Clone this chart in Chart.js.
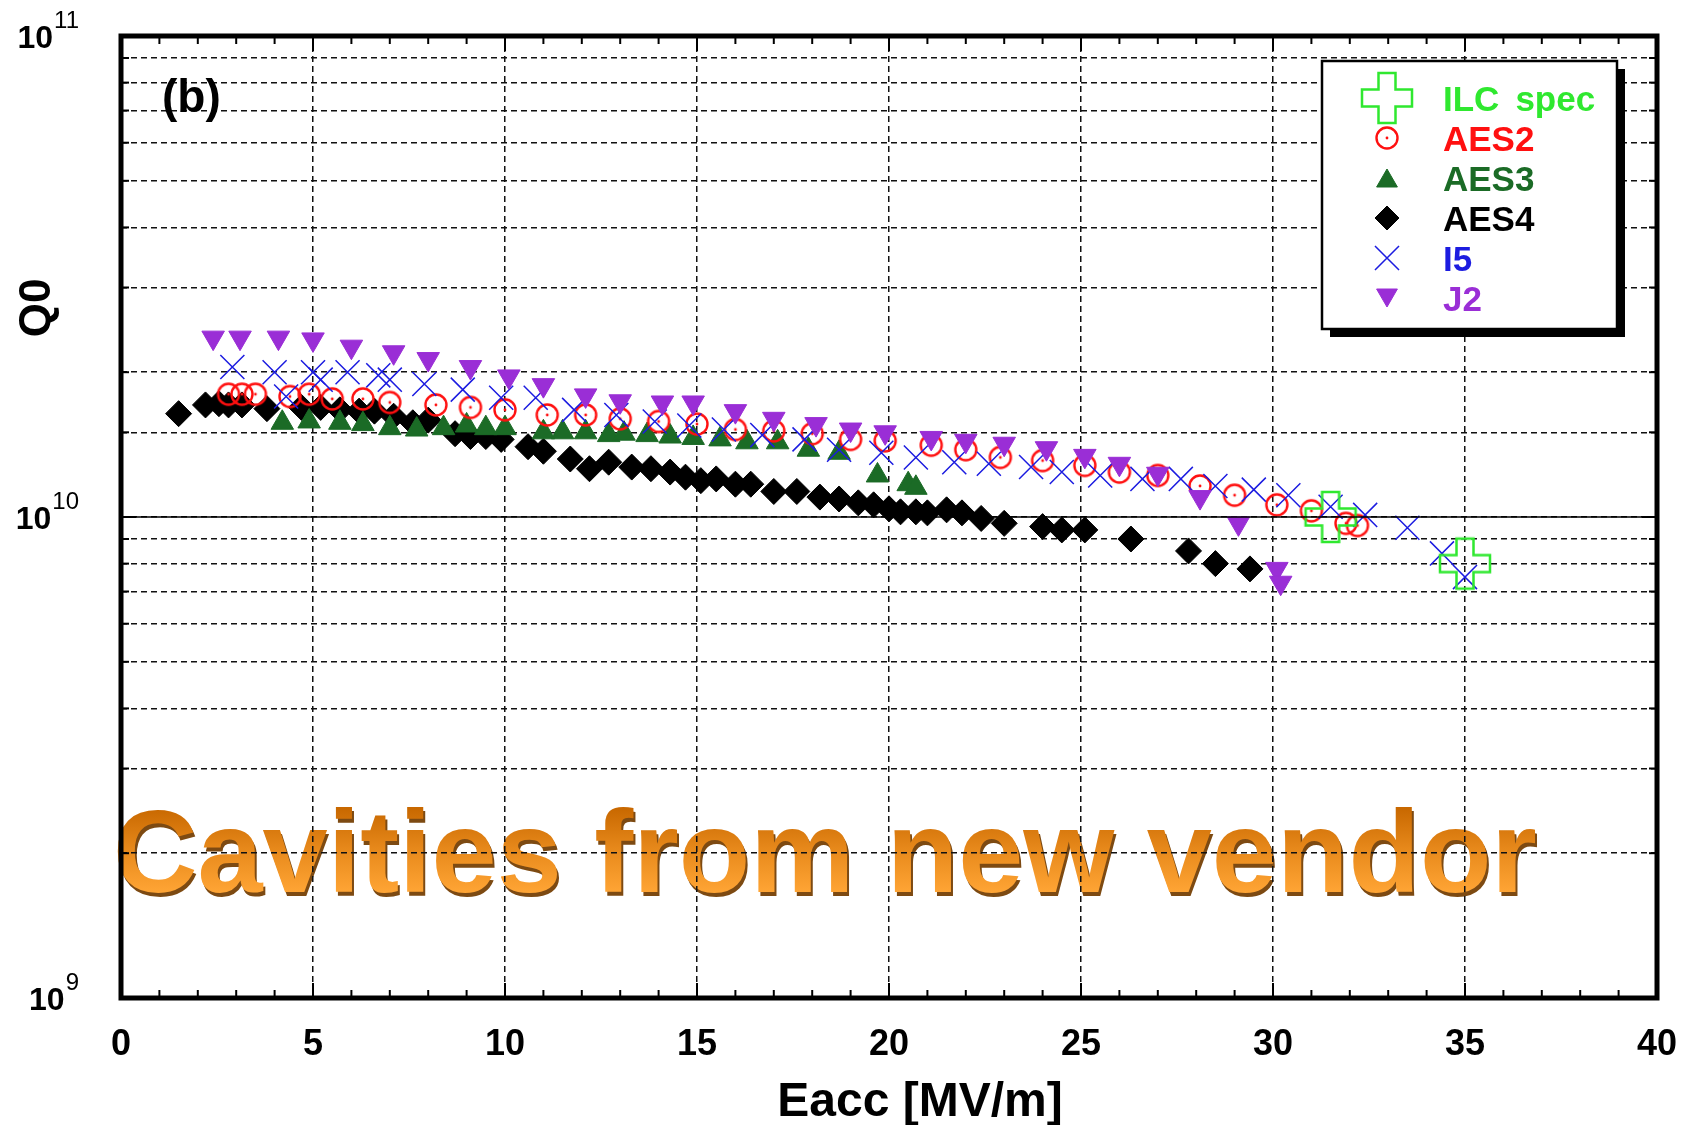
<!DOCTYPE html>
<html>
<head>
<meta charset="utf-8">
<title>Q0 vs Eacc - cavities from new vendor</title>
<script src="https://cdn.jsdelivr.net/npm/chart.js@4.4.1/dist/chart.umd.min.js"></script>
<style>
  html, body { margin: 0; padding: 0; background: #ffffff; }
  canvas { display: block; }
</style>
</head>
<body>
<canvas id="chart-q0" width="1686" height="1125"></canvas>
<script>
'use strict';

// ---- data (Eacc in MV/m, Q0) ----
var ilcX = [31.5, 35.0];
var ilcQ = [1.0e10, 8.0e9];

var aes2X = [2.8, 3.15, 3.5, 4.4, 4.9, 5.5, 6.3, 7.0, 8.2, 9.1, 10.0, 11.1, 12.1, 13.0, 14.0, 15.0, 16.0, 17.0,
             18.0, 19.0, 19.9, 21.1, 22.0, 22.9, 24.0, 25.1, 26.0, 27.0, 28.1, 29.0, 30.1, 31.0, 31.9, 32.2];
var aes2Q = [1.80e10, 1.80e10, 1.80e10, 1.78e10, 1.80e10, 1.76e10, 1.76e10, 1.73e10, 1.71e10, 1.69e10, 1.67e10,
             1.63e10, 1.63e10, 1.60e10, 1.58e10, 1.56e10, 1.52e10, 1.51e10, 1.49e10, 1.45e10, 1.44e10, 1.41e10,
             1.38e10, 1.33e10, 1.31e10, 1.28e10, 1.24e10, 1.22e10, 1.16e10, 1.11e10, 1.06e10, 1.03e10, 9.7e9, 9.6e9];

var aes3X = [4.2, 4.9, 5.7, 6.3, 7.0, 7.7, 8.4, 9.0, 9.5, 10.0, 11.0, 11.5, 12.1, 12.7, 13.1, 13.7, 14.3, 14.9,
             15.6, 16.3, 17.1, 17.9, 18.7, 19.7, 20.5, 20.7];
var aes3Q = [1.57e10, 1.58e10, 1.57e10, 1.56e10, 1.53e10, 1.52e10, 1.53e10, 1.55e10, 1.53e10, 1.53e10, 1.50e10,
             1.50e10, 1.50e10, 1.48e10, 1.49e10, 1.48e10, 1.47e10, 1.46e10, 1.45e10, 1.43e10, 1.43e10, 1.38e10,
             1.36e10, 1.22e10, 1.17e10, 1.15e10];

var aes4X = [1.5, 2.2, 2.55, 2.8, 3.15, 3.8, 4.7, 5.2, 5.7, 6.2, 6.6, 7.1, 7.6, 8.0, 8.7, 9.1, 9.5, 9.9, 10.6, 11.0,
             11.7, 12.2, 12.7, 13.3, 13.8, 14.3, 14.7, 15.1, 15.5, 16.0, 16.4, 17.0, 17.6, 18.2, 18.7, 19.2, 19.6,
             20.0, 20.3, 20.7, 21.0, 21.5, 21.9, 22.4, 23.0, 24.0, 24.5, 25.1, 26.3, 27.8, 28.5, 29.4];
var aes4Q = [1.64e10, 1.71e10, 1.72e10, 1.71e10, 1.71e10, 1.68e10, 1.69e10, 1.69e10, 1.67e10, 1.66e10, 1.66e10,
             1.62e10, 1.57e10, 1.59e10, 1.49e10, 1.47e10, 1.47e10, 1.45e10, 1.40e10, 1.37e10, 1.32e10, 1.26e10,
             1.30e10, 1.27e10, 1.26e10, 1.24e10, 1.21e10, 1.19e10, 1.20e10, 1.17e10, 1.17e10, 1.13e10, 1.13e10,
             1.10e10, 1.09e10, 1.07e10, 1.06e10, 1.04e10, 1.025e10, 1.025e10, 1.02e10, 1.035e10, 1.02e10, 9.93e9,
             9.7e9, 9.55e9, 9.4e9, 9.4e9, 9.0e9, 8.5e9, 8.0e9, 7.8e9];

var i5X = [2.9, 4.0, 4.3, 5.0, 5.2, 5.9, 6.7, 7.0, 7.9, 8.9, 9.9, 10.8, 11.8, 12.9, 13.9, 14.8, 15.7, 16.7, 17.8,
           18.7, 19.8, 20.7, 21.7, 22.6, 23.7, 24.5, 25.5, 26.6, 27.6, 28.5, 29.5, 30.4, 31.5, 32.4, 33.5, 34.4, 35.0];
var i5Q = [2.05e10, 2.00e10, 1.78e10, 2.00e10, 1.93e10, 2.00e10, 1.97e10, 1.93e10, 1.89e10, 1.84e10, 1.77e10,
           1.77e10, 1.67e10, 1.63e10, 1.58e10, 1.55e10, 1.52e10, 1.48e10, 1.45e10, 1.38e10, 1.36e10, 1.33e10,
           1.30e10, 1.29e10, 1.27e10, 1.24e10, 1.22e10, 1.20e10, 1.20e10, 1.16e10, 1.14e10, 1.11e10, 1.05e10,
           1.01e10, 9.5e9, 8.4e9, 7.5e9];

var j2X = [2.4, 3.1, 4.1, 5.0, 6.0, 7.1, 8.0, 9.1, 10.1, 11.0, 12.1, 13.0, 14.1, 14.9, 16.0, 17.0, 18.1, 19.0, 19.9,
           21.1, 22.0, 23.0, 24.1, 25.1, 26.0, 27.0, 28.1, 29.1, 30.1, 30.2];
var j2Q = [2.36e10, 2.36e10, 2.36e10, 2.34e10, 2.26e10, 2.20e10, 2.13e10, 2.05e10, 1.96e10, 1.88e10, 1.79e10,
           1.74e10, 1.73e10, 1.73e10, 1.66e10, 1.60e10, 1.56e10, 1.52e10, 1.50e10, 1.46e10, 1.44e10, 1.42e10,
           1.39e10, 1.34e10, 1.29e10, 1.23e10, 1.10e10, 9.7e9, 7.8e9, 7.3e9];

var seriesNames = ['ILC spec', 'AES2', 'AES3', 'AES4', 'I5', 'J2'];
var xTickValues = [0, 5, 10, 15, 20, 25, 30, 35, 40];
var yDecades = [9, 10, 11];
var xTitle = 'Eacc [MV/m]';
var yTitle = 'Q0';
var panelTag = '(b)';
var bannerText = 'Cavities from new vendor';

var FONT = "'Liberation Sans', Arial, Helvetica, sans-serif";
var COL = {
  ilc: '#2fe82f',
  aes2: '#ff1010',
  aes3: '#1b6b26',
  aes4: '#000000',
  i5: '#1c1ce0',
  j2: '#9a2ed6'
};

function pairs(xs, ys) {
  var out = [];
  for (var i = 0; i < xs.length; i++) out.push({ x: xs[i], y: ys[i] });
  return out;
}

// circle with a dot in the middle
function makeRing() {
  var c = document.createElement('canvas');
  c.width = 28; c.height = 28;
  var g = c.getContext('2d');
  g.strokeStyle = COL.aes2;
  g.lineWidth = 2.4;
  g.beginPath(); g.arc(14, 14, 10.5, 0, Math.PI * 2); g.stroke();
  g.fillStyle = COL.aes2;
  g.beginPath(); g.arc(14, 14, 1.4, 0, Math.PI * 2); g.fill();
  return c;
}

// open plus sign
function makePlus() {
  var c = document.createElement('canvas');
  c.width = 56; c.height = 56;
  var g = c.getContext('2d');
  var a = 8.5, L = 25, o = 28;
  var p = [[-a, -L], [a, -L], [a, -a], [L, -a], [L, a], [a, a], [a, L], [-a, L], [-a, a], [-L, a], [-L, -a], [-a, -a]];
  g.strokeStyle = COL.ilc;
  g.lineWidth = 2.5;
  g.beginPath();
  for (var i = 0; i < p.length; i++) {
    if (i === 0) g.moveTo(o + p[i][0], o + p[i][1]); else g.lineTo(o + p[i][0], o + p[i][1]);
  }
  g.closePath();
  g.stroke();
  return c;
}

var ringImg = makeRing();
var plusImg = makePlus();

var legendItems = [
  { label: seriesNames[0], color: COL.ilc, style: plusImg, radius: 25, rotation: 0 },
  { label: seriesNames[1], color: COL.aes2, style: ringImg, radius: 12, rotation: 0 },
  { label: seriesNames[2], color: COL.aes3, style: 'triangle', radius: 12, rotation: 0 },
  { label: seriesNames[3], color: COL.aes4, style: 'rectRot', radius: 12, rotation: 0 },
  { label: seriesNames[4], color: COL.i5, style: 'crossRot', radius: 17, rotation: 0 },
  { label: seriesNames[5], color: COL.j2, style: 'triangle', radius: 12, rotation: 180 }
];

function line(ctx, x1, y1, x2, y2) {
  ctx.beginPath(); ctx.moveTo(x1, y1); ctx.lineTo(x2, y2); ctx.stroke();
}

var decorPlugin = {
  id: 'decor',
  beforeDraw: function (chart) {
    var ctx = chart.ctx;
    ctx.save();
    ctx.fillStyle = '#ffffff';
    ctx.fillRect(0, 0, chart.width, chart.height);
    // big orange banner, sits under the grid
    ctx.font = 'bold 117px ' + FONT;
    ctx.textAlign = 'left';
    ctx.textBaseline = 'alphabetic';
    ctx.fillStyle = '#7d4a12';
    ctx.fillText(bannerText, 115, 896);
    var grad = ctx.createLinearGradient(0, 808, 0, 893);
    grad.addColorStop(0, '#c86800');
    grad.addColorStop(0.5, '#e88a1c');
    grad.addColorStop(1, '#ffa535');
    ctx.fillStyle = grad;
    ctx.fillText(bannerText, 113, 892);
    ctx.restore();
  },
  afterDraw: function (chart) {
    var ctx = chart.ctx;
    var a = chart.chartArea;
    var xs = chart.scales.x;
    var ys = chart.scales.y;
    ctx.save();

    // the 1e10 grid line is solid
    ctx.strokeStyle = '#000';
    ctx.lineWidth = 1.6;
    var y10 = ys.getPixelForValue(1e10);
    line(ctx, a.left, y10, a.right, y10);

    // minor / major ticks on all four sides
    ctx.lineWidth = 2;
    for (var v = 0; v <= 40; v++) {
      var px = xs.getPixelForValue(v);
      var len = v % 5 === 0 ? 15 : 8;
      line(ctx, px, a.bottom, px, a.bottom - len);
      line(ctx, px, a.top, px, a.top + len);
    }
    ys.ticks.forEach(function (t) {
      var py = ys.getPixelForValue(t.value);
      var lg = Math.log10(t.value);
      var tl = Math.abs(lg - Math.round(lg)) < 1e-6 ? 15 : 8;
      line(ctx, a.left, py, a.left + tl, py);
      line(ctx, a.right, py, a.right - tl, py);
    });

    // frame
    ctx.lineWidth = 5;
    ctx.strokeRect(a.left, a.top, a.right - a.left, a.bottom - a.top);

    // x tick labels
    ctx.fillStyle = '#000';
    ctx.textBaseline = 'alphabetic';
    ctx.textAlign = 'center';
    ctx.font = 'bold 36px ' + FONT;
    xTickValues.forEach(function (v) {
      ctx.fillText(String(v), xs.getPixelForValue(v), a.bottom + 57);
    });

    // y tick labels 10^n
    yDecades.forEach(function (d) {
      var py = ys.getPixelForValue(Math.pow(10, d));
      ctx.font = 'bold 32px ' + FONT;
      var wBase = ctx.measureText('10').width;
      ctx.font = '24px ' + FONT;
      var sup = String(d);
      var wSup = ctx.measureText(sup).width;
      var right = 79;
      ctx.textAlign = 'left';
      ctx.font = 'bold 32px ' + FONT;
      ctx.fillText('10', right - wSup - 1 - wBase, py + 11.5);
      ctx.font = '24px ' + FONT;
      ctx.fillText(sup, right - wSup, py - 8);
    });

    // axis titles
    ctx.font = 'bold 48px ' + FONT;
    ctx.textAlign = 'center';
    ctx.fillText(xTitle, 920, 1116);
    ctx.save();
    ctx.translate(50, 308);
    ctx.rotate(-Math.PI / 2);
    ctx.font = 'bold 44px ' + FONT;
    ctx.fillText(yTitle, 0, 0);
    ctx.restore();

    // panel tag
    ctx.font = 'bold 46px ' + FONT;
    ctx.textAlign = 'left';
    ctx.fillText(panelTag, 162, 112);

    // legend box with drop shadow
    var bx = 1322, by = 61, bw = 295, bh = 268;
    ctx.fillStyle = '#000';
    ctx.fillRect(bx + 8, by + 8, bw, bh);
    ctx.fillStyle = '#fff';
    ctx.fillRect(bx, by, bw, bh);
    ctx.lineWidth = 2.5;
    ctx.strokeStyle = '#000';
    ctx.strokeRect(bx, by, bw, bh);

    legendItems.forEach(function (it, i) {
      var cy = 98 + 40 * i;
      var my = cy;
      if (it.style === 'triangle') my = cy + (it.rotation ? -3 : 3);
      ctx.fillStyle = it.color;
      ctx.strokeStyle = it.color;
      ctx.lineWidth = it.style === 'crossRot' ? 1.5 : 1;
      Chart.helpers.drawPoint(ctx, { pointStyle: it.style, radius: it.radius, rotation: it.rotation, borderWidth: ctx.lineWidth }, 1387, my);
      ctx.fillStyle = it.color;
      ctx.font = 'bold 35px ' + FONT;
      ctx.textAlign = 'left';
      ctx.textBaseline = 'alphabetic';
      if (i === 0) {
        // the reference's word gap is wider
        ctx.fillText('ILC', 1443, cy + 12.5);
        ctx.fillText('spec', 1443 + ctx.measureText('ILC').width + 16, cy + 12.5);
      } else {
        ctx.fillText(it.label, 1443, cy + 12.5);
      }
    });

    ctx.restore();
  }
};

var ctx = document.getElementById('chart-q0').getContext('2d');
var chart = new Chart(ctx, {
  type: 'scatter',
  data: {
    datasets: [
      {
        label: seriesNames[0], data: pairs(ilcX, ilcQ), order: 0,
        pointStyle: plusImg, pointRadius: 25, pointBorderColor: COL.ilc, pointBackgroundColor: COL.ilc
      },
      {
        label: seriesNames[5], data: pairs(j2X, j2Q), order: 1,
        pointStyle: 'triangle', rotation: 180, pointRadius: 13,
        pointBackgroundColor: COL.j2, pointBorderColor: COL.j2, pointBorderWidth: 1
      },
      {
        label: seriesNames[4], data: pairs(i5X, i5Q), order: 2,
        pointStyle: 'crossRot', pointRadius: 17,
        pointBorderColor: COL.i5, pointBackgroundColor: COL.i5, pointBorderWidth: 1.5
      },
      {
        label: seriesNames[1], data: pairs(aes2X, aes2Q), order: 3,
        pointStyle: ringImg, pointRadius: 12, pointBorderColor: COL.aes2, pointBackgroundColor: COL.aes2
      },
      {
        label: seriesNames[2], data: pairs(aes3X, aes3Q), order: 4,
        pointStyle: 'triangle', pointRadius: 13,
        pointBackgroundColor: COL.aes3, pointBorderColor: COL.aes3, pointBorderWidth: 1
      },
      {
        label: seriesNames[3], data: pairs(aes4X, aes4Q), order: 5,
        pointStyle: 'rectRot', pointRadius: 13,
        pointBackgroundColor: COL.aes4, pointBorderColor: COL.aes4, pointBorderWidth: 1
      }
    ]
  },
  options: {
    responsive: false,
    animation: false,
    events: [],
    layout: { padding: { top: 36, right: 29, left: 0, bottom: 0 } },
    plugins: {
      legend: { display: false },
      tooltip: { enabled: false }
    },
    scales: {
      x: {
        type: 'linear',
        min: 0,
        max: 40,
        afterFit: function (scale) { scale.height = 127; },
        afterBuildTicks: function (scale) {
          scale.ticks = xTickValues.map(function (v) { return { value: v }; });
        },
        ticks: { display: false, autoSkip: false },
        grid: {
          color: '#111',
          lineWidth: 1.5,
          drawTicks: false
        },
        border: { display: false, dash: [6, 4] }
      },
      y: {
        type: 'logarithmic',
        min: 1e9,
        max: 1e11,
        afterFit: function (scale) { scale.width = 121; },
        ticks: { display: false, autoSkip: false },
        grid: {
          color: '#111',
          lineWidth: 1.5,
          drawTicks: false
        },
        border: { display: false, dash: [6, 4] }
      }
    }
  },
  plugins: [decorPlugin]
});
</script>
</body>
</html>
